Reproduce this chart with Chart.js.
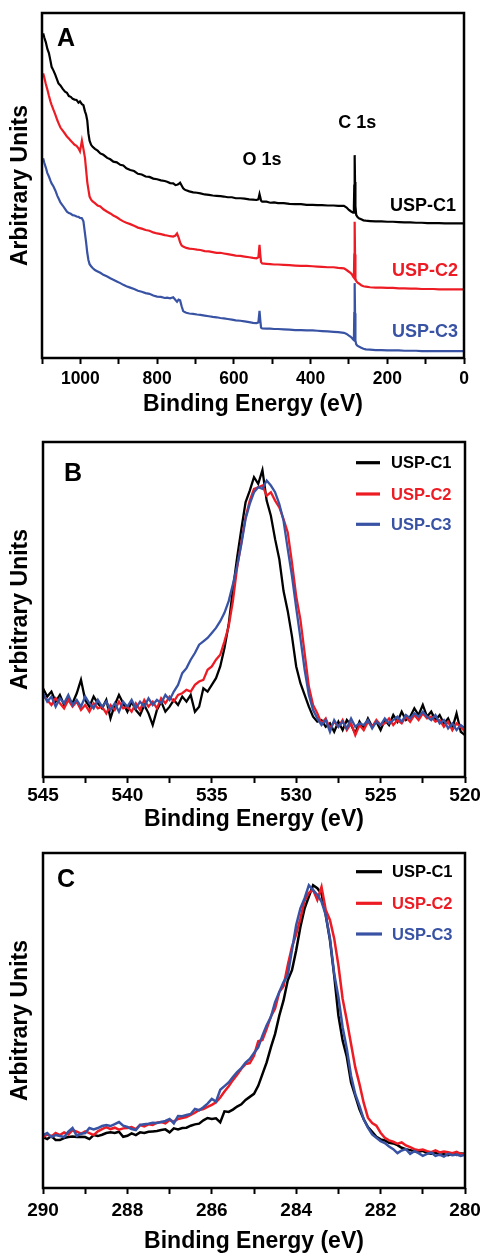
<!DOCTYPE html>
<html><head><meta charset="utf-8">
<script src="https://cdn.jsdelivr.net/npm/chart.js@4.4.1/dist/chart.umd.min.js"></script>
<style>
html,body{margin:0;padding:0;background:#fff;}
#wrap{position:relative;width:484px;height:1253px;overflow:hidden;background:#fff;}
.pan{position:absolute;left:0;width:484px;}
canvas{display:block;}
</style></head><body>
<div id="wrap">
<div class="pan" style="top:0;height:425px"><canvas id="cA" width="484" height="425"></canvas></div>
<div class="pan" style="top:425px;height:410px"><canvas id="cB" width="484" height="410"></canvas></div>
<div class="pan" style="top:835px;height:418px"><canvas id="cC" width="484" height="418"></canvas></div>
</div>
<script>
// ---------- DATA ----------
const seriesNames = ['USP-C1', 'USP-C2', 'USP-C3'];

// Panel A: survey spectra (binding energy, eV)
const surveyEnergy = [
1097,1094,1090,1086,1082,1078,1075,1070,1065,1060,
1057,1052,1046,1040,1035,1030,1025,1020,1015,1010,
1005,1001,996,992,988,985,982,979,976,972,
968,962,955,948,940,930,922,914,905,896,
888,880,870,860,850,840,830,820,810,800,
790,780,774,766,758,752,748,744,740,736,
732,728,724,716,706,696,687,676,665,655,
645,635,626,616,605,595,583,572,560,550,
541,536,533,531,529,526,515,505,495,485,
470,455,440,425,410,395,382,370,355,340,
328,313,306,300,296,292,289,287,286,285,
284,283,281,278,274,268,262,256,245,230,
215,200,185,170,155,140,125,110,95,80,
65,50,35,20,10,0];
const surveyC1 = [
94.1,92.9,91.5,89.6,88.4,86.2,84.4,83.3,82.0,80.5,
79.6,79.0,78.0,77.2,76.9,75.9,75.7,75.1,74.9,74.8,
74.0,74.4,73.6,73.3,71.5,70.5,68.8,65.1,63.0,61.8,
61.2,60.6,60.1,59.3,58.9,58.0,57.6,56.9,56.7,56.0,
55.8,55.0,54.5,54.2,53.4,53.2,52.6,52.5,52.0,51.8,
51.5,51.3,51.1,50.7,50.6,50.1,50.2,50.4,50.8,50.0,
49.2,48.8,48.6,48.3,48.0,47.9,47.7,47.4,47.3,47.1,
47.0,46.9,46.8,46.6,46.6,46.3,46.3,46.2,46.0,45.9,
45.8,46.0,47.5,46.6,45.6,45.3,45.3,45.0,45.1,44.9,
44.9,44.7,44.6,44.6,44.4,44.4,44.3,44.3,44.2,44.2,
44.1,44.1,43.6,42.9,42.6,42.3,42.1,44.0,50.0,58.8,
51.0,44.0,41.5,40.9,40.5,40.2,39.9,39.8,39.7,39.6,
39.6,39.5,39.5,39.4,39.3,39.3,39.2,39.2,39.1,39.1,
39.1,39.0,39.0,39.0,39.0,39.0];
const surveyC2 = [
82.5,81.3,79.4,77.8,76.0,74.4,73.4,71.9,70.5,68.9,
68.1,66.8,65.9,65.0,64.2,63.6,63.0,62.4,61.8,61.5,
60.8,59.9,63.0,60.6,58.0,54.5,51.0,48.8,46.8,45.9,
45.4,44.9,44.2,43.9,43.1,42.4,41.9,41.3,40.8,40.1,
39.6,39.2,38.8,38.3,37.8,37.5,37.1,36.9,36.4,36.1,
35.9,35.6,35.5,35.3,35.2,35.5,36.1,35.0,33.5,32.6,
32.3,32.1,31.9,31.7,31.6,31.4,31.3,31.0,30.9,30.7,
30.5,30.5,30.3,30.1,29.9,29.7,29.6,29.4,29.2,29.0,
28.9,29.2,32.8,30.0,27.8,27.4,27.3,27.2,27.1,27.1,
27.0,26.9,26.8,26.7,26.7,26.6,26.5,26.4,26.3,26.3,
26.1,26.0,25.5,25.0,24.7,24.2,23.6,23.3,30.0,39.5,
30.0,23.0,22.3,21.9,21.6,21.1,20.8,20.7,20.5,20.4,
20.4,20.3,20.3,20.2,20.2,20.1,20.1,20.0,20.0,20.0,
19.9,19.9,19.9,19.9,19.9,19.9];
const surveyC3 = [
57.9,56.6,55.2,53.6,52.6,51.4,50.6,49.7,48.5,47.0,
46.3,45.1,44.2,43.2,42.4,42.0,41.8,41.4,41.3,41.0,
40.9,40.6,40.5,39.6,36.1,33.5,30.5,28.4,27.2,26.6,
26.1,25.5,25.1,24.7,24.1,23.6,23.1,22.7,22.2,21.7,
21.2,20.8,20.4,20.0,19.5,19.2,18.8,18.6,18.1,17.8,
17.7,17.4,17.5,17.3,17.6,16.8,16.3,16.9,16.7,15.0,
13.6,13.3,13.1,12.9,12.8,12.6,12.5,12.3,12.1,11.9,
11.8,11.6,11.5,11.3,11.1,10.9,10.8,10.6,10.4,10.2,
10.1,10.3,13.7,11.0,8.8,8.6,8.5,8.5,8.4,8.4,
8.3,8.2,8.1,8.1,8.0,8.0,7.9,7.8,7.7,7.6,
7.5,7.3,7.0,6.5,6.2,5.8,5.4,5.2,13.0,21.7,
13.0,5.0,4.0,3.6,3.3,3.0,2.7,2.5,2.4,2.3,
2.3,2.2,2.2,2.2,2.1,2.1,2.1,2.0,2.0,2.0,
2.0,2.0,2.0,2.0,2.0,2.0];

// Panel B: O 1s region
const o1sEnergy = [
545,544.75,544.5,544.25,544,543.75,543.5,543.25,543,542.75,
542.5,542.25,542,541.75,541.5,541.25,541,540.75,540.5,540.25,
540,539.75,539.5,539.25,539,538.75,538.5,538.25,538,537.75,
537.5,537.25,537,536.75,536.5,536.25,536,535.75,535.5,535.25,
535,534.75,534.5,534.25,534,533.75,533.5,533.25,533,532.75,
532.5,532.25,532,531.75,531.5,531.25,531,530.75,530.5,530.25,
530,529.75,529.5,529.25,529,528.75,528.5,528.25,528,527.75,
527.5,527.25,527,526.75,526.5,526.25,526,525.75,525.5,525.25,
525,524.75,524.5,524.25,524,523.75,523.5,523.25,523,522.75,
522.5,522.25,522,521.75,521.5,521.25,521,520.75,520.5,520.25,
520];
const o1sC1 = [
26.5,24.0,25.5,22.5,24.5,21.5,23.5,22.0,25.0,29.0,
23.0,21.0,24.0,22.0,20.5,23.0,17.5,21.5,24.5,22.0,
19.5,22.5,20.0,18.5,21.5,19.0,15.5,20.0,22.5,19.5,
21.0,23.0,21.5,24.0,22.5,24.5,19.5,21.0,26.5,25.5,
27.5,29.5,33.0,38.5,45.5,56.0,65.5,74.0,82.0,85.5,
89.5,87.5,91.6,82.5,78.0,71.0,65.0,55.5,49.5,42.0,
33.0,28.0,24.5,21.0,18.0,16.5,17.0,15.0,16.0,13.5,
16.5,14.0,17.0,15.5,13.0,16.5,14.5,17.5,15.0,16.5,
14.0,17.0,15.5,18.5,16.5,19.5,17.0,18.0,20.5,18.5,
21.5,18.0,19.5,17.0,18.5,16.0,17.5,14.5,19.0,13.5,
12.5];
const o1sC2 = [
24.5,23.0,21.5,23.5,22.0,20.5,23.0,21.0,22.5,20.0,
21.5,19.5,22.0,20.5,21.0,19.0,21.5,20.0,22.5,20.5,
21.0,19.5,22.0,20.0,23.0,21.0,22.5,20.5,23.5,22.0,
24.0,22.5,24.5,25.0,26.0,25.5,27.5,28.5,29.0,32.0,
33.0,35.0,36.5,40.5,45.0,52.5,62.5,70.0,77.5,82.5,
86.0,86.5,87.0,84.0,85.0,82.5,80.5,77.0,73.0,64.0,
54.0,47.0,37.0,27.0,21.5,19.0,16.0,17.5,14.5,16.5,
15.0,17.0,14.0,16.0,12.5,15.5,14.0,16.5,15.0,17.0,
15.5,16.0,17.5,15.5,17.0,16.0,18.0,16.5,18.5,17.0,
19.0,17.5,18.0,16.5,17.0,15.0,16.5,14.0,16.0,15.0,
13.5];
const o1sC3 = [
25.0,22.5,24.0,21.0,23.5,22.0,24.5,21.5,23.0,21.0,
24.0,22.0,20.5,23.0,21.0,22.5,20.0,22.0,19.5,22.5,
21.0,23.0,20.5,22.5,21.0,23.5,21.5,23.0,22.0,24.5,
23.0,25.5,27.5,31.0,32.5,35.0,37.0,39.5,40.5,41.5,
43.0,44.5,46.5,49.0,52.5,57.5,63.0,69.5,77.0,81.5,
85.0,86.5,86.0,88.5,87.0,85.0,81.5,76.5,68.0,60.0,
50.5,41.5,32.0,24.5,20.0,17.5,15.5,17.0,13.5,17.0,
15.0,16.5,14.5,17.5,15.0,16.0,15.5,17.0,14.5,16.5,
15.5,17.5,16.0,17.0,18.0,16.5,18.5,17.5,19.0,18.0,
19.5,18.0,17.0,18.5,16.0,17.0,14.5,16.0,14.0,15.5,
14.5];

// Panel C: C 1s region
const c1sEnergy = [
290,289.9,289.8,289.7,289.6,289.5,289.4,289.3,289.2,289.1,
289,288.9,288.8,288.7,288.6,288.5,288.4,288.3,288.2,288.1,
288,287.9,287.8,287.7,287.6,287.5,287.4,287.3,287.2,287.1,
287,286.9,286.8,286.7,286.6,286.5,286.4,286.3,286.2,286.1,
286,285.9,285.8,285.7,285.6,285.5,285.4,285.3,285.2,285.1,
285,284.9,284.8,284.7,284.6,284.5,284.4,284.3,284.2,284.1,
284,283.9,283.8,283.7,283.6,283.5,283.4,283.3,283.2,283.1,
283,282.9,282.8,282.7,282.6,282.5,282.4,282.3,282.2,282.1,
282,281.9,281.8,281.7,281.6,281.5,281.4,281.3,281.2,281.1,
281,280.9,280.8,280.7,280.6,280.5,280.4,280.3,280.2,280.1,
280];
const c1sC1 = [
15.2,14.6,15.5,14.3,14.3,14.9,15.2,15.4,15.2,15.3,
15.2,14.6,15.8,15.5,15.9,16.4,16.6,16.4,16.8,15.3,
15.6,16.3,15.8,16.6,16.4,16.8,16.9,17.0,17.3,17.5,
16.6,17.8,17.5,17.9,18.0,18.6,19.0,19.2,20.2,20.9,
20.6,20.8,19.6,22.9,22.7,23.4,24.3,25.0,26.3,27.2,
28.1,30.5,34.0,37.5,42.0,46.0,51.5,56.0,62.0,65.0,
71.0,78.0,83.5,87.0,90.4,89.5,87.8,81.5,74.0,63.5,
51.5,44.0,39.1,31.5,27.5,23.5,20.5,18.2,16.8,15.3,
14.5,14.2,13.5,13.3,12.8,12.0,11.6,11.3,11.0,10.8,
11.1,10.4,10.2,10.6,9.9,10.1,9.8,10.2,9.9,10.3,
10.2];
const c1sC2 = [
15.2,16.0,15.4,16.4,15.8,16.6,16.0,17.3,16.8,16.2,
16.9,16.4,15.8,16.9,17.6,18.2,17.6,18.0,17.4,17.8,
17.9,18.2,17.6,18.8,18.4,19.0,18.8,19.5,19.7,19.3,
20.3,19.8,20.6,20.9,21.2,21.8,22.5,23.3,23.6,24.2,
24.8,25.6,27.0,28.8,30.4,32.2,33.8,35.6,37.0,37.3,
39.5,43.8,44.2,47.5,51.2,53.6,58.5,60.2,66.5,72.0,
75.8,80.5,85.8,88.1,89.0,86.0,89.9,83.0,80.0,74.5,
66.5,56.5,50.0,43.0,36.0,31.0,25.4,21.0,19.4,18.6,
16.5,15.0,14.2,13.8,13.2,13.6,12.7,12.2,11.6,11.3,
11.5,11.0,10.7,11.2,10.6,10.9,10.7,10.4,10.8,10.2,
9.9];
const c1sC3 = [
15.8,16.4,15.2,15.8,15.5,15.2,16.8,17.9,15.6,16.2,
16.4,17.9,17.5,17.9,18.5,18.8,18.5,19.1,19.7,18.6,
18.2,17.6,17.3,18.8,19.0,19.2,19.5,19.4,19.7,20.0,
20.6,19.3,21.5,21.4,21.8,22.1,23.6,23.2,24.1,25.2,
26.6,25.8,29.3,30.4,31.5,33.1,34.6,35.8,37.4,38.5,
40.3,42.0,45.5,48.6,51.0,55.5,58.5,61.5,63.5,71.0,
78.5,83.5,86.5,90.4,88.9,87.5,85.5,81.5,74.5,64.0,
57.0,48.0,41.5,33.5,28.0,24.5,20.5,18.0,16.0,15.0,
14.0,13.4,12.4,11.6,10.4,11.2,11.6,10.2,11.0,10.4,
9.6,10.2,10.6,9.6,10.0,9.4,10.2,9.8,10.0,9.6,
9.9];

// ---------- STYLE / DRAWING ----------
const seriesColors = ['#000000', '#ed1c24', '#3953a4'];
const FONT = "'Liberation Sans', Arial, Helvetica, sans-serif";

function pts(xs, ys) { return xs.map((x, i) => ({ x: x, y: ys[i] })); }
function isLabeled(v, every) { const q = v / every; return Math.abs(q - Math.round(q)) < 1e-6; }

const framePlugin = {
  id: 'frame',
  afterDatasetsDraw(chart) {
    const { ctx, chartArea: a } = chart;
    ctx.save();
    ctx.lineWidth = 2.5;
    ctx.strokeStyle = '#000';
    ctx.strokeRect(a.left, a.top, a.right - a.left, a.bottom - a.top);
    ctx.restore();
  }
};

function letterPlugin(letter, dx, dy) {
  return {
    id: 'letter' + letter,
    afterDraw(chart) {
      const { ctx, chartArea: a } = chart;
      ctx.save();
      ctx.font = 'bold 25px ' + FONT;
      ctx.fillStyle = '#000';
      ctx.textAlign = 'left';
      ctx.textBaseline = 'alphabetic';
      ctx.fillText(letter, a.left + dx, a.top + dy);
      ctx.restore();
    }
  };
}

function legendPlugin(lx0, lx1, tx, rows) {
  return {
    id: 'insideLegend',
    afterDraw(chart) {
      const { ctx, chartArea: a } = chart;
      ctx.save();
      chart.data.datasets.forEach((ds, i) => {
        const y = a.top + rows[i];
        ctx.strokeStyle = ds.borderColor;
        ctx.lineWidth = 3.2;
        ctx.beginPath();
        ctx.moveTo(a.left + lx0, y);
        ctx.lineTo(a.left + lx1, y);
        ctx.stroke();
        ctx.font = 'bold 16.5px ' + FONT;
        ctx.fillStyle = ds.borderColor;
        ctx.textAlign = 'left';
        ctx.textBaseline = 'middle';
        ctx.fillText(ds.label, a.left + tx, y + 1);
      });
      ctx.restore();
    }
  };
}

const surveyLabelPlugin = {
  id: 'surveyLabels',
  afterDraw(chart) {
    const { ctx } = chart;
    const xs = chart.scales.x, ys = chart.scales.y;
    const items = [
      { t: 'O 1s', e: 526.5, v: 55.9, al: 'center', c: '#000' },
      { t: 'C 1s', e: 278.2, v: 66.7, al: 'center', c: '#000' },
      { t: seriesNames[0], e: 20.8, v: 42.7, al: 'right', c: seriesColors[0] },
      { t: seriesNames[1], e: 15.6, v: 23.8, al: 'right', c: seriesColors[1] },
      { t: seriesNames[2], e: 15.6, v: 6.2, al: 'right', c: seriesColors[2] }
    ];
    ctx.save();
    ctx.font = 'bold 18px ' + FONT;
    ctx.textBaseline = 'alphabetic';
    items.forEach(it => {
      ctx.fillStyle = it.c;
      ctx.textAlign = it.al;
      ctx.fillText(it.t, xs.getPixelForValue(it.e), ys.getPixelForValue(it.v));
    });
    ctx.restore();
  }
};

function makeChart(id, xs, ys, cfg, extras) {
  return new Chart(document.getElementById(id), {
    type: 'line',
    data: {
      datasets: ys.map((y, i) => ({
        label: seriesNames[i],
        data: pts(xs[i], y),
        borderColor: seriesColors[i],
        backgroundColor: seriesColors[i],
        borderWidth: cfg.lw,
        pointRadius: 0,
        tension: 0,
        fill: false,
        order: 3 - i
      }))
    },
    options: {
      responsive: false,
      animation: false,
      devicePixelRatio: 1,
      layout: { padding: { top: cfg.padTop, right: cfg.padRight, left: 0, bottom: 0 } },
      plugins: { legend: { display: false }, tooltip: { enabled: false } },
      scales: {
        x: {
          type: 'linear', reverse: true, min: cfg.min, max: cfg.max,
          afterFit: s => { s.height = cfg.xH; s.paddingLeft = 0; s.paddingRight = 0; },
          border: { display: false },
          grid: { display: true, drawOnChartArea: false, drawTicks: true, tickLength: 6, tickWidth: 2, tickColor: '#000', color: '#000' },
          ticks: {
            stepSize: cfg.step, autoSkip: false, maxRotation: 0, minRotation: 0, color: '#000',
            padding: cfg.tickPad,
            font: { family: FONT, size: cfg.tickSize, weight: 'bold', lineHeight: 1 },
            callback: v => isLabeled(v, cfg.every) ? String(v) : ''
          },
          title: {
            display: true, text: 'Binding Energy (eV)', color: '#000',
            font: { family: FONT, size: 23, weight: 'bold', lineHeight: 1 },
            padding: { top: 0, bottom: cfg.titlePad }
          }
        },
        y: {
          min: 0, max: 100,
          afterFit: s => { s.width = cfg.yW; s.paddingTop = 0; s.paddingBottom = 0; },
          border: { display: false },
          grid: { display: false },
          ticks: { display: false },
          title: {
            display: true, text: 'Arbitrary Units', color: '#000',
            font: { family: FONT, size: 23, weight: 'bold', lineHeight: 1 },
            padding: { top: 9, bottom: 0 }
          }
        }
      }
    },
    plugins: [framePlugin].concat(extras)
  });
}

makeChart('cA', [surveyEnergy, surveyEnergy, surveyEnergy], [surveyC1, surveyC2, surveyC3],
  { min: 0, max: 1100, step: 100, every: 200, padTop: 13, padRight: 20, xH: 67, yW: 42, tickPad: 6.3, tickSize: 17.5, titlePad: 9, lw: 2.2 },
  [letterPlugin('A', 15, 33), surveyLabelPlugin]);

makeChart('cB', [o1sEnergy, o1sEnergy, o1sEnergy], [o1sC1, o1sC2, o1sC3],
  { min: 520, max: 545, step: 2.5, every: 5, padTop: 17, padRight: 19, xH: 58, yW: 43, tickPad: 2.8, tickSize: 19, titlePad: 4, lw: 2.3 },
  [letterPlugin('B', 21, 39), legendPlugin(313, 337, 348, [20.7, 52, 82.3])]);

makeChart('cC', [c1sEnergy, c1sEnergy, c1sEnergy], [c1sC1, c1sC2, c1sC3],
  { min: 280, max: 290, step: 1, every: 2, padTop: 18, padRight: 19, xH: 65, yW: 43, tickPad: 6.8, tickSize: 19, titlePad: 0, lw: 2.5 },
  [letterPlugin('C', 14, 34), legendPlugin(313, 339, 349, [18.7, 50.3, 81])]);
</script>
</body></html>
